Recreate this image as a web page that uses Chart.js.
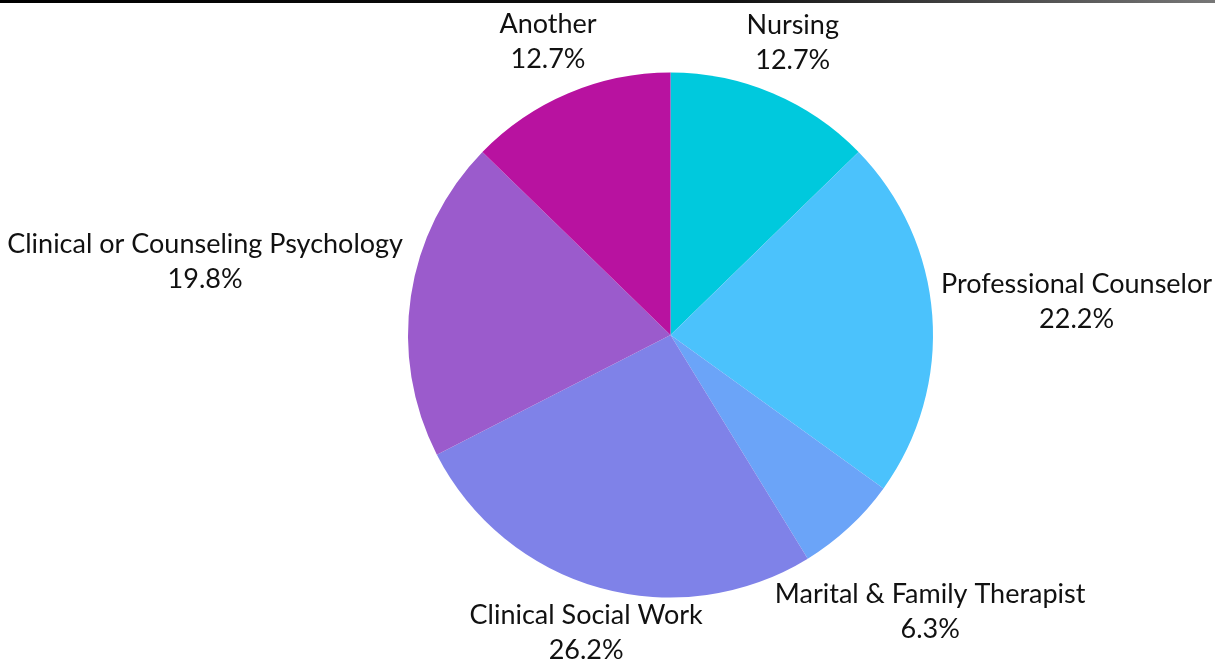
<!DOCTYPE html>
<html>
<head>
<meta charset="utf-8">
<script src="https://cdn.jsdelivr.net/npm/chart.js@4"></script>
<style>
  html, body { margin: 0; padding: 0; background: #fff; }
  #topLine { position: absolute; left: 0; top: 0; width: 1215px; height: 3px;
    background: linear-gradient(to right, #000 0%, #111 60%, #777 100%); }
  #wrap { width: 1215px; height: 660px; position: relative; }
</style>
</head>
<body>
<div id="wrap">
  <canvas id="pieChart"></canvas>
  <div id="topLine"></div>
</div>
<script>
// Daten
const kategorien = ["Nursing", "Professional Counselor", "Marital & Family Therapist",
  "Clinical Social Work", "Clinical or Counseling Psychology", "Another"];
const prozente = [12.7, 22.2, 6.3, 26.2, 19.8, 12.7];
const farben = ["#00C9DD", "#4BC2FC", "#6BA4F8", "#7F82E8", "#9B5BCC", "#B812A0"];

const labelFont = "27px Lato";
const lineHeight = 35;
const gap = 8; // Abstand Label zum Kreis

// Labels ausserhalb vom Kreis zeichnen
const outsideLabels = {
  id: "outsideLabels",
  afterDatasetsDraw(chart) {
    const ctx = chart.ctx;
    const meta = chart.getDatasetMeta(0);
    ctx.save();
    ctx.font = labelFont;
    ctx.fillStyle = "#111";
    ctx.textAlign = "center";
    ctx.textBaseline = "middle";
    meta.data.forEach((arc, i) => {
      const lines = [kategorien[i], prozente[i].toFixed(1) + "%"];
      const w = Math.max(...lines.map(l => ctx.measureText(l).width));
      const h = (lines.length - 1) * lineHeight + 25; // sichtbare Texthoehe
      const mid = (arc.startAngle + arc.endAngle) / 2;
      const dx = Math.cos(mid), dy = Math.sin(mid);
      const target = arc.outerRadius + gap;
      // Abstand der Box zum Mittelpunkt
      const boxDist = (t) => {
        const cx = dx * t, cy = dy * t;
        const nx = Math.max(Math.abs(cx) - w / 2, 0);
        const ny = Math.max(Math.abs(cy) - h / 2, 0);
        return Math.hypot(nx, ny);
      };
      let lo = 0, hi = 1000;
      for (let k = 0; k < 40; k++) {
        const m = (lo + hi) / 2;
        if (boxDist(m) < target) lo = m; else hi = m;
      }
      const bx = arc.x + dx * hi;
      const by = arc.y + dy * hi - 3; // Glyphen optisch zentrieren
      const top = by - (lines.length - 1) * lineHeight / 2;
      lines.forEach((l, j) => {
        ctx.fillText(l, bx, top + lineHeight * j);
      });
    });
    ctx.restore();
  }
};

const canvas = document.getElementById("pieChart");
canvas.width = 1215;
canvas.height = 660;

new Chart(canvas.getContext("2d"), {
  type: "pie",
  data: {
    labels: kategorien,
    datasets: [{
      data: prozente,
      backgroundColor: farben,
      borderWidth: 0,
    }]
  },
  options: {
    responsive: false,
    animation: false,
    layout: { padding: { top: 72, bottom: 62, left: 408, right: 282 } },
    plugins: {
      legend: { display: false },
      tooltip: { enabled: false }
    }
  },
  plugins: [outsideLabels]
});
</script>
</body>
</html>
